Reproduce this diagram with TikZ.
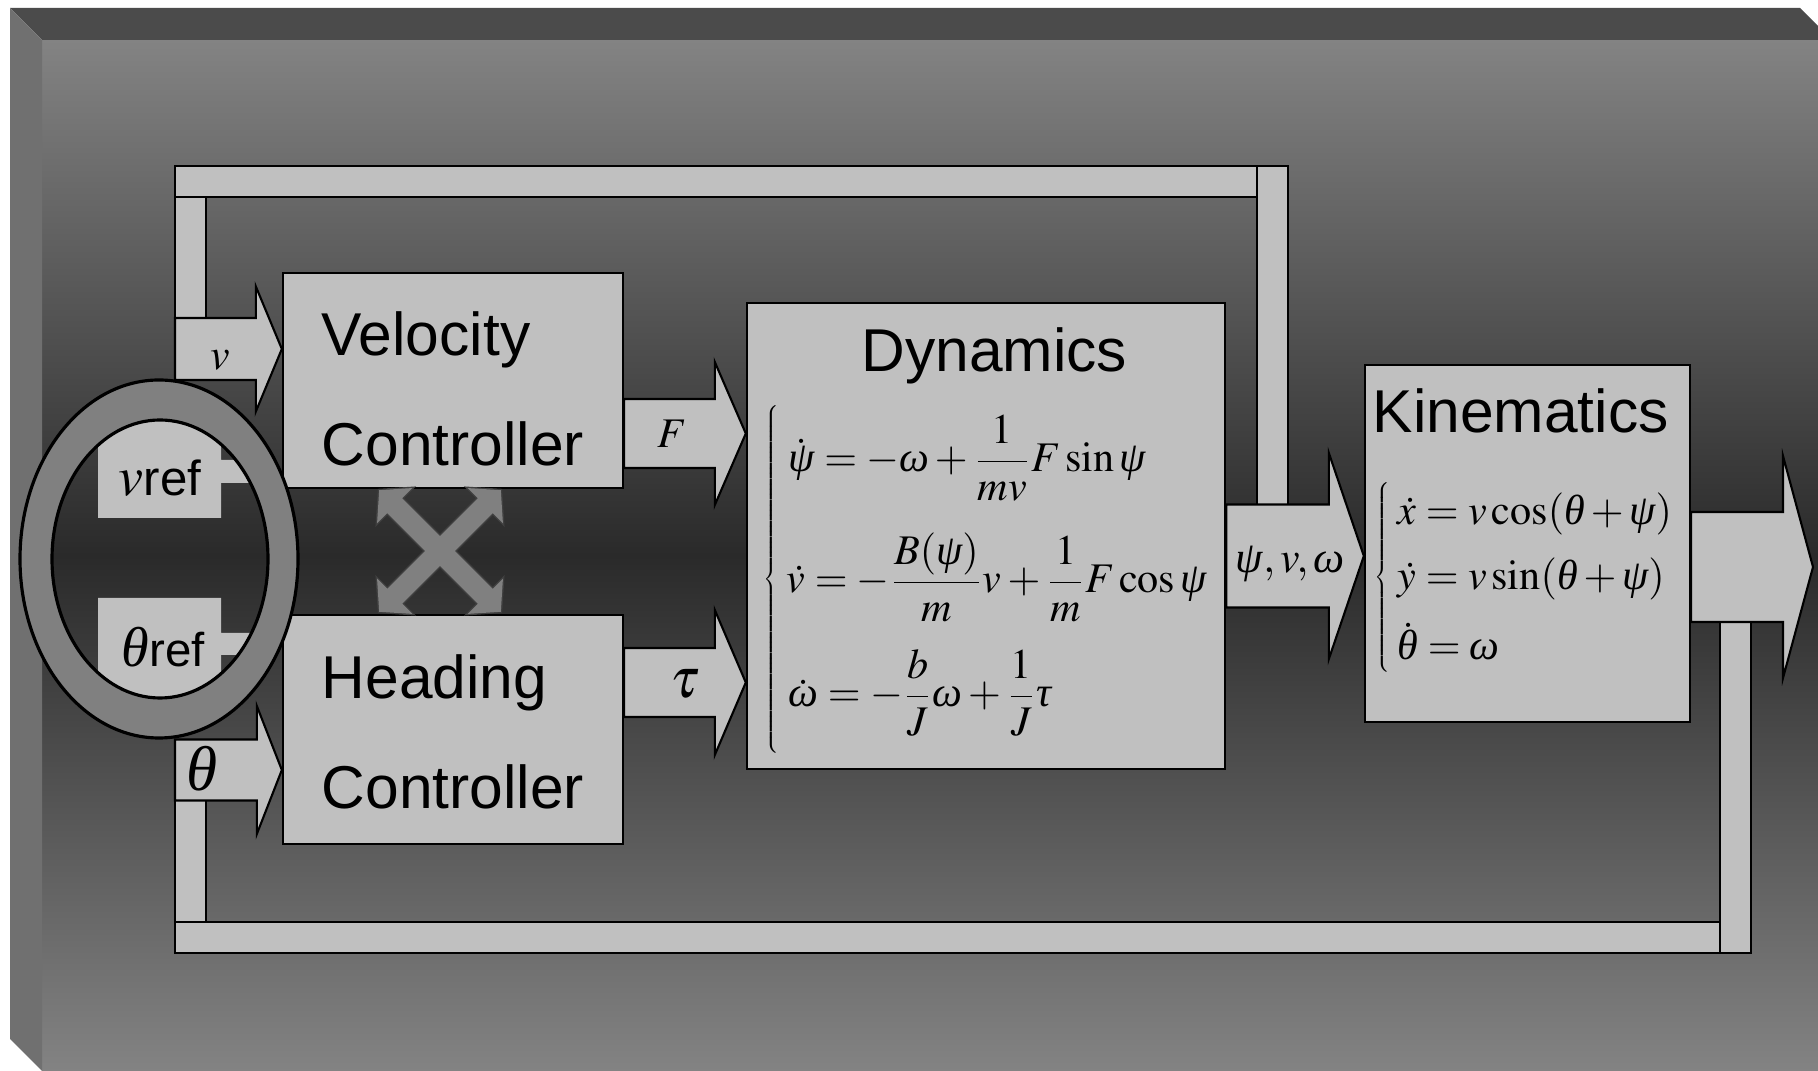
\documentclass[tikz,border=0pt]{standalone}
\usepackage{mathptmx}
\usepackage[no-math]{fontspec}
\setmainfont{Liberation Sans}
\newfontfamily\griega{Liberation Serif}
\usetikzlibrary{calc}
\definecolor{grisclaro}{HTML}{C0C0C0}
\definecolor{grisanillo}{HTML}{808080}
\definecolor{grisfondo}{HTML}{838383}
\definecolor{grisoscuro}{HTML}{2A2A2A}
\definecolor{gristapa}{HTML}{4B4B4B}
\definecolor{grislado}{HTML}{707070}
% letras griegas en cursiva
\newcommand{\gpsi}{\mbox{\griega\itshape ψ}}
\newcommand{\gome}{\mbox{\griega\itshape ω}}
\newcommand{\gthe}{\mbox{\griega\itshape θ}}
\newcommand{\gtau}{\mbox{\griega\itshape τ}}
\begin{document}
\begin{tikzpicture}[x=0.01cm,y=-0.01cm]
% estilos de linea y relleno
\tikzstyle{caja}=[draw=black,fill=grisclaro,line width=0.6pt,inner sep=0pt,align=left,font=\fontsize{17.2}{31.3}\selectfont];
\tikzstyle{flecha}=[draw=black,fill=grisclaro,line width=0.6pt];
\tikzstyle{barra}=[draw=black,fill=grisclaro,line width=0.6pt];
\tikzstyle{refe}=[fill=grisclaro];
\tikzstyle{anillo}=[fill=grisanillo,draw=black,line width=0.9pt,even odd rule];
\tikzstyle{cruz}=[fill=grisanillo];
\tikzstyle{cruzborde}=[draw=black!75,line width=0.8pt];
\tikzstyle{texto}=[inner sep=0pt,anchor=base west];
\tikzstyle{titulo}=[texto,font=\fontsize{17.2}{20}\selectfont];
\tikzstyle{ecua}=[texto,font=\fontsize{12}{14}\selectfont];
\tikzstyle{llave}=[inner sep=0pt,anchor=east,font=\fontsize{5}{6}\selectfont];
% flecha de bloque horizontal
% #1: nodo o punto de la cola
% #2: punto de la punta
% #3: semiancho del cuerpo
% #4: semiancho de la cabeza
% #5: largo de la cabeza
\newcommand{\flechabloque}[5]{
\coordinate (C) at #1;
\coordinate (P) at #2;
\draw[flecha] ($(C |- P)+(0,-#3)$) -- ($(P)+(-#5,-#3)$) -- ($(P)+(-#5,-#4)$) -- (P)
-- ($(P)+(-#5,#4)$) -- ($(P)+(-#5,#3)$) -- ($(C |- P)+(0,#3)$) -- cycle;
}
% flecha doble del acoplamiento (ejes locales)
\newcommand{\dobleflecha}{(-86,0) -- (-64,25) -- (-64,10.5) -- (64,10.5) -- (64,25) -- (86,0)
-- (64,-25) -- (64,-10.5) -- (-64,-10.5) -- (-64,-25) -- cycle}
\useasboundingbox (0,0) rectangle (1818,1071);
\clip (0,0) rectangle (1818,1071);
% fondo en relieve
\shade[top color=grisfondo,bottom color=grisfondo,middle color=grisoscuro] (42,40) rectangle (1818,1071);
\fill[gristapa] (10,8) -- (1800,8) -- (1832,40) -- (42,40) -- cycle;
\fill[grislado] (10,8) -- (42,40) -- (42,1071) -- (10,1039) -- cycle;
% barras de realimentacion
\begin{scope}
\draw[barra] (175,166) rectangle (1257,197);
\draw[barra] (1257,166) rectangle (1288,505);
\draw[barra] (175,197) rectangle (206,318);
\draw[barra] (175,922) rectangle (1720,953);
\draw[barra] (1720,622) rectangle (1751,953);
\draw[barra] (175,800) rectangle (206,922);
\end{scope}
\coordinate (retv) at (175,349);
\coordinate (reth) at (175,770);
\coordinate (salida) at (1813,567);
% bloques
\node[caja,minimum width=3.40cm,minimum height=2.15cm] (vel) at (453,380.5) {\rule{0pt}{17pt}Velocity\\Controller};
\node[caja,minimum width=3.40cm,minimum height=2.29cm] (head) at (453,729.5) {\rule{0pt}{14pt}Heading\\Controller};
\node[caja,minimum width=4.78cm,minimum height=4.66cm] (dyn) at (986,536) {};
\node[caja,minimum width=3.25cm,minimum height=3.57cm] (kin) at (1527.5,543.5) {};
% flechas de bloque
\flechabloque{(retv)}{(vel.west |- retv)}{31}{62.5}{26}
\flechabloque{(reth)}{(head.west |- reth)}{30.5}{64}{25}
\flechabloque{(vel.east)}{(dyn.west |- 0,433.5)}{34.5}{71.5}{31}
\flechabloque{(head.east)}{(dyn.west |- 0,682.5)}{34.5}{72.5}{31}
\flechabloque{(dyn.east)}{(kin.west |- 0,556)}{51.5}{103}{35}
\flechabloque{(kin.east)}{(salida)}{55}{111}{30}
% acoplamiento cruzado
\begin{scope}[shift={(440,551)}]
\foreach \ang in {45,-45}
\draw[cruzborde,rotate=\ang] \dobleflecha;
\foreach \ang in {45,-45}
\fill[cruz,rotate=\ang] \dobleflecha;
\end{scope}
% referencias y anillo
\fill[refe] (98,405) rectangle (221,518) (221,460) rectangle (270,483);
\fill[refe] (98,598) rectangle (221,712) (221,633) rectangle (270,655);
\draw[anillo] (159,559) ellipse [x radius=139,y radius=179] (160,559) ellipse [x radius=108,y radius=139];
% rotulos
\node[texto] (tvref) at (118,496) {\fontsize{16}{16}\selectfont$v$\fontsize{14}{14}\selectfont ref};
\node[texto] (tthref) at (121,667) {\fontsize{16}{16}\selectfont\gthe\fontsize{13.5}{14}\selectfont ref};
\node[texto,anchor=base] (tv) at (220,370) {\fontsize{12.5}{14}\selectfont$v$};
\node[texto,anchor=base] (tth) at (202,791) {\fontsize{18}{18}\selectfont\gthe};
\node[texto,anchor=base] (tF) at (672,448) {\fontsize{12}{14}\selectfont$F$};
\node[texto,anchor=base] (ttau) at (685,698) {\fontsize{16}{18}\selectfont$\tau$};
\node[texto] (tsal) at (1235,573) {\fontsize{12.5}{14}\selectfont$\gpsi,v,\gome$};
\node[titulo] (tdyn) at (861,372) {Dynamics};
\node[titulo] (tkin) at (1372,433) {Kinematics};
% ecuaciones
\node[llave] (llavedyn) at (784,582) {$\left\{\vrule height 49.8pt depth 49.8pt width 0pt\right.$};
\node[ecua] (ecd1) at (788,472) {$\displaystyle\dot{\gpsi}=-\gome+\frac{1}{mv}F\sin\gpsi$};
\node[ecua] (ecd2) at (786,593) {$\displaystyle\dot{v}=-\frac{B(\gpsi)}{m}v+\frac{1}{m}F\cos\gpsi$};
\node[ecua] (ecd3) at (788,707) {$\displaystyle\dot{\gome}=-\frac{b}{J}\gome+\frac{1}{J}\gtau$};
\node[llave] (llavekin) at (1395,580.5) {$\left\{\vrule height 27.7pt depth 27.7pt width 0pt\right.$};
\node[ecua] (eck1) at (1397,525) {$\dot{x}=v\cos(\gthe+\gpsi)$};
\node[ecua] (eck2) at (1397,590) {$\dot{y}=v\sin(\gthe+\gpsi)$};
\node[ecua] (eck3) at (1397,660) {$\dot{\gthe}=\gome$};
\end{tikzpicture}
\end{document}
